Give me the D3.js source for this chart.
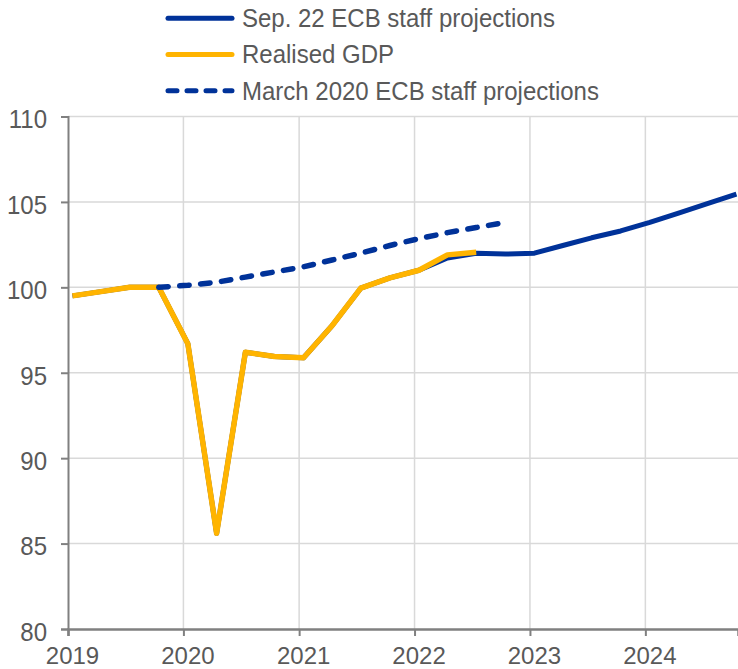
<!DOCTYPE html>
<html>
<head>
<meta charset="utf-8">
<script src="https://cdn.jsdelivr.net/npm/d3@7"></script>
<style>
  html, body { margin: 0; padding: 0; background: #fff; }
  svg { display: block; font-family: "Liberation Sans", Arial, sans-serif; }
</style>
</head>
<body>
<svg id="chart" width="738" height="669"></svg>
<script>
// ---- data ----
const quarters = [
  "2019Q1","2019Q2","2019Q3","2019Q4",
  "2020Q1","2020Q2","2020Q3","2020Q4",
  "2021Q1","2021Q2","2021Q3","2021Q4",
  "2022Q1","2022Q2","2022Q3","2022Q4",
  "2023Q1","2023Q2","2023Q3","2023Q4",
  "2024Q1","2024Q2","2024Q3","2024Q4"
];
const realisedGDP = [
  99.5, 99.75, 100.0, 100.0,
  96.7, 85.6, 96.2, 95.95,
  95.88, 97.75, 99.95, 100.55,
  101.0, 101.9, 102.05, null,
  null, null, null, null,
  null, null, null, null
];
const sep22Projections = [
  99.5, 99.75, 100.0, 100.0,
  96.7, 85.6, 96.2, 95.95,
  95.88, 97.75, 99.95, 100.55,
  101.0, 101.72, 101.99, 101.95,
  102.0, 102.45, 102.9, 103.3,
  103.8, 104.35, 104.9, 105.45
];
const march2020Projections = [
  null, null, null, 100.0,
  100.12, 100.3, 100.6, 100.9,
  101.2, 101.6, 102.0, 102.45,
  102.85, 103.2, 103.5, 103.8,
  null, null, null, null,
  null, null, null, null
];
const yearTicks = ["2019","2020","2021","2022","2023","2024"];
const yTicks = [80, 85, 90, 95, 100, 105, 110];
const seriesNames = ["Sep. 22 ECB staff projections", "Realised GDP", "March 2020 ECB staff projections"];

// ---- layout ----
(function () {
const svg = d3.select("#chart");
const mLeft = 68, mRight = 738, mTop = 116.5, mBottom = 629;
const blue = "#003299", yellow = "#FFB400";
const textColor = "#595959", axisColor = "#808080", gridColor = "#d9d9d9";
const fontSize = 24, stretch = "scale(1,1.07)";

function qDate(q) {
  const yr = +q.slice(0, 4), n = +q.slice(5);
  return new Date(yr, (n - 1) * 3, 15);
}

const x = d3.scaleTime()
  .domain([new Date(2019, 0, 1), new Date(2024, 9, 20)])
  .range([mLeft, mRight]);
const y = d3.scaleLinear().domain([80, 110]).range([mBottom, mTop]);

// gridlines
const grid = svg.append("g");
grid.selectAll("line.h").data(yTicks.filter(v => v > 80)).join("line")
  .attr("x1", mLeft).attr("x2", mRight)
  .attr("y1", d => y(d)).attr("y2", d => y(d))
  .attr("stroke", gridColor).attr("stroke-width", 1.5);
grid.selectAll("line.v").data(yearTicks.slice(1)).join("line")
  .attr("x1", d => x(new Date(+d, 0, 1))).attr("x2", d => x(new Date(+d, 0, 1)))
  .attr("y1", mTop).attr("y2", mBottom)
  .attr("stroke", gridColor).attr("stroke-width", 1.5);

// axes
const yAxis = d3.axisLeft(y).tickValues(yTicks).tickSize(7).tickPadding(14);
const yG = svg.append("g").attr("transform", `translate(${mLeft},0)`).call(yAxis);
yG.select(".domain").attr("stroke", axisColor).attr("stroke-width", 2);
yG.selectAll(".tick line").attr("stroke", axisColor).attr("stroke-width", 2);
yG.selectAll(".tick text").attr("fill", textColor).attr("font-size", fontSize)
  .attr("font-family", "Liberation Sans, Arial, sans-serif")
  .attr("dy", "0.44em").attr("transform", stretch);

const xAxis = d3.axisBottom(x)
  .tickValues(yearTicks.map(d => new Date(+d, 0, 1)))
  .tickFormat(d3.timeFormat("%Y")).tickSize(7).tickPadding(10.8);
const xG = svg.append("g").attr("transform", `translate(0,${mBottom})`).call(xAxis);
xG.select(".domain").attr("stroke", axisColor).attr("stroke-width", 2.5);
xG.selectAll(".tick line").attr("stroke", axisColor).attr("stroke-width", 2);
xG.selectAll(".tick text").attr("fill", textColor).attr("font-size", fontSize)
  .attr("font-family", "Liberation Sans, Arial, sans-serif")
  .attr("dx", 4);

// lines
const line = d3.line()
  .defined(d => d.v != null)
  .x(d => x(qDate(d.q)))
  .y(d => y(d.v));
const toPts = arr => quarters.map((q, i) => ({ q, v: arr[i] }));

svg.append("path").datum(toPts(sep22Projections))
  .attr("d", line).attr("fill", "none")
  .attr("stroke", blue).attr("stroke-width", 5).attr("stroke-linejoin", "round");
svg.append("path").datum(toPts(realisedGDP))
  .attr("d", line).attr("fill", "none")
  .attr("stroke", yellow).attr("stroke-width", 5.5).attr("stroke-linejoin", "round");
svg.append("path").datum(toPts(march2020Projections))
  .attr("d", line).attr("fill", "none")
  .attr("stroke", blue).attr("stroke-width", 5.5)
  .attr("stroke-dasharray", "9.5,11.5").attr("stroke-linecap", "round");

// legend
const legend = svg.append("g");
const legendRows = [
  { name: seriesNames[0], color: blue, dash: null },
  { name: seriesNames[1], color: yellow, dash: null },
  { name: seriesNames[2], color: blue, dash: "9,10" }
];
legendRows.forEach((r, i) => {
  const cy = 18.3 + i * 36.2;
  legend.append("line")
    .attr("x1", 168).attr("x2", 232).attr("y1", cy).attr("y2", cy)
    .attr("stroke", r.color).attr("stroke-width", 5)
    .attr("stroke-linecap", "round")
    .attr("stroke-dasharray", r.dash);
  legend.append("text")
    .attr("transform", `translate(242,${cy}) ${stretch}`)
    .attr("dy", "0.35em")
    .attr("fill", textColor).attr("font-size", fontSize)
    .text(r.name);
});
})();
</script>
</body>
</html>
